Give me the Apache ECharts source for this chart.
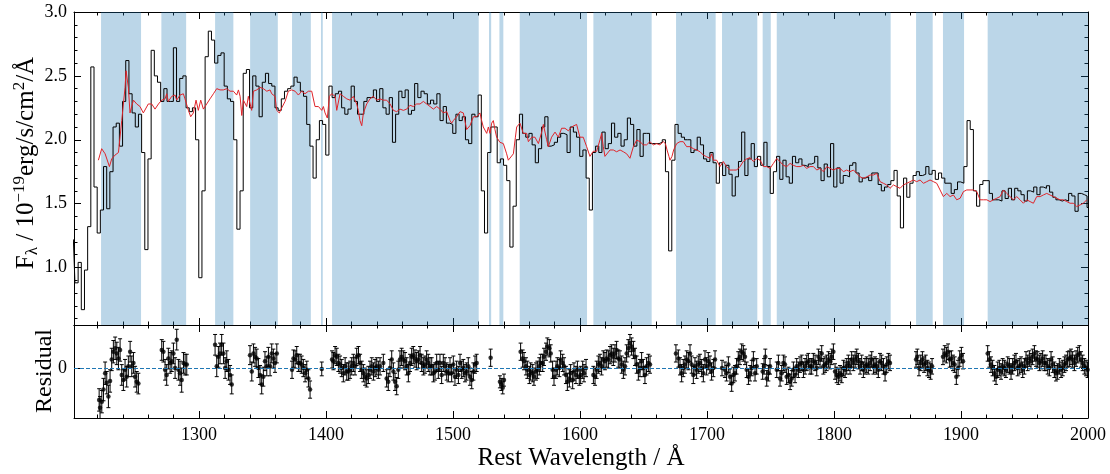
<!DOCTYPE html>
<html><head><meta charset="utf-8">
<script src="https://cdn.jsdelivr.net/npm/echarts@6/dist/echarts.min.js"></script>
<style>html,body{margin:0;padding:0;background:#fff}#c{width:1110px;height:474px}</style>
</head><body><div id="c"></div>
<script>
// ---------------- data ----------------
const xTickLabels = [1300,1400,1500,1600,1700,1800,1900,2000];
const fluxTickLabels = [1.0,1.5,2.0,2.5,3.0];
const residualTickLabels = [0];

// fitted wavelength windows (shaded)
const fitWindows = [
 [1222.8,1254.3],[1270.3,1289.8],[1312.6,1327.0],[1340.2,1362.0],[1373.2,1388.0],
 [1396.0,1397.4],[1404.7,1520.2],[1528.3,1530.0],[1536.5,1539.6],[1552.5,1605.5],
 [1610.5,1656.4],[1675.6,1706.8],[1711.8,1739.6],[1743.8,1750.2],[1754.9,1844.6],
 [1864.6,1877.7],[1885.8,1902.4],[1921.0,2000.0]
];

// observed spectrum [wavelength, flux]
const observedFlux = [
[1201.0,1.22],[1203.5,0.88],[1206.0,1.04],[1208.5,0.67],[1211.0,0.98],[1213.5,1.32],[1216.0,2.57],[1218.5,1.63],
[1221.0,1.27],[1223.5,1.45],[1226.0,1.79],[1228.5,1.46],[1231.0,1.75],[1233.5,2.10],[1236.0,2.13],[1238.5,1.95],
[1241.0,2.30],[1243.5,2.62],[1246.0,2.36],[1248.5,2.21],[1251.0,2.10],[1253.5,2.20],[1256.0,1.90],[1258.5,1.14],
[1261.0,1.85],[1263.5,2.70],[1266.0,2.50],[1268.5,2.45],[1271.0,2.30],[1273.5,2.40],[1276.0,2.30],[1278.5,2.30],
[1281.0,2.72],[1283.5,2.30],[1286.0,2.48],[1288.5,2.50],[1291.0,2.25],[1293.5,2.22],[1296.0,2.25],[1298.5,2.00],
[1301.0,0.92],[1303.5,1.60],[1306.0,2.65],[1308.5,2.85],[1311.0,2.78],[1313.5,2.60],[1316.0,2.66],[1318.5,2.68],
[1321.0,2.42],[1323.5,2.32],[1326.0,2.30],[1328.5,2.00],[1331.0,1.30],[1333.5,1.60],[1336.0,2.52],[1338.5,2.55],
[1341.0,2.25],[1343.5,2.50],[1346.0,2.42],[1348.5,2.18],[1351.0,2.45],[1353.5,2.52],[1356.0,2.44],[1358.5,2.42],
[1361.0,2.25],[1363.5,2.23],[1366.0,2.32],[1368.5,2.38],[1371.0,2.40],[1373.5,2.42],[1376.0,2.49],[1378.5,2.45],
[1381.0,2.38],[1383.5,2.34],[1386.0,2.12],[1388.5,1.95],[1391.0,1.70],[1393.5,2.00],[1396.0,2.15],[1398.5,2.12],
[1401.0,1.88],[1403.5,2.42],[1406.0,2.33],[1408.5,2.36],[1411.0,2.38],[1413.5,2.25],[1416.0,2.20],[1418.5,2.24],
[1421.0,2.42],[1423.5,2.30],[1426.0,2.20],[1428.5,2.20],[1431.0,2.30],[1433.5,2.33],[1436.0,2.33],[1438.5,2.39],
[1441.0,2.30],[1443.5,2.40],[1446.0,2.25],[1448.5,2.20],[1451.0,2.33],[1453.5,1.98],[1456.0,2.20],[1458.5,2.38],
[1461.0,2.33],[1463.5,2.39],[1466.0,2.20],[1468.5,2.23],[1471.0,2.44],[1473.5,2.33],[1476.0,2.38],[1478.5,2.36],
[1481.0,2.28],[1483.5,2.31],[1486.0,2.28],[1488.5,2.36],[1491.0,2.15],[1493.5,2.26],[1496.0,2.13],[1498.5,2.12],
[1501.0,2.05],[1503.5,2.20],[1506.0,2.15],[1508.5,2.18],[1511.0,2.00],[1513.5,1.97],[1516.0,2.20],[1518.5,2.18],
[1521.0,2.35],[1523.5,1.60],[1526.0,1.27],[1528.5,1.90],[1531.0,2.10],[1533.5,2.10],[1536.0,1.82],[1538.5,1.85],
[1541.0,1.80],[1543.5,1.68],[1546.0,1.16],[1548.5,1.48],[1551.0,2.00],[1553.5,2.20],[1556.0,2.05],[1558.5,2.02],
[1561.0,2.05],[1563.5,1.96],[1566.0,1.82],[1568.5,1.93],[1571.0,2.10],[1573.5,2.18],[1576.0,1.95],[1578.5,1.96],
[1581.0,1.98],[1583.5,2.02],[1586.0,2.05],[1588.5,2.04],[1591.0,1.90],[1593.5,2.10],[1596.0,2.06],[1598.5,2.02],
[1601.0,1.87],[1603.5,1.92],[1606.0,1.70],[1608.5,1.45],[1611.0,1.90],[1613.5,1.95],[1616.0,1.90],[1618.5,2.06],
[1621.0,1.93],[1623.5,1.97],[1626.0,2.13],[1628.5,2.02],[1631.0,2.05],[1633.5,1.95],[1636.0,2.00],[1638.5,2.17],
[1641.0,2.12],[1643.5,1.95],[1646.0,2.08],[1648.5,1.87],[1651.0,2.05],[1653.5,2.05],[1656.0,1.97],[1658.5,1.97],
[1661.0,1.97],[1663.5,1.98],[1666.0,2.00],[1668.5,1.75],[1671.0,1.13],[1673.5,1.84],[1676.0,2.12],[1678.5,2.05],
[1681.0,2.02],[1683.5,2.00],[1686.0,2.00],[1688.5,1.90],[1691.0,1.92],[1693.5,2.02],[1696.0,1.96],[1698.5,1.85],
[1701.0,1.83],[1703.5,1.90],[1706.0,1.82],[1708.5,1.66],[1711.0,1.82],[1713.5,1.72],[1716.0,1.80],[1718.5,1.73],
[1721.0,1.56],[1723.5,1.71],[1726.0,1.83],[1728.5,2.06],[1731.0,1.72],[1733.5,1.85],[1736.0,1.97],[1738.5,1.79],
[1741.0,1.87],[1743.5,1.80],[1746.0,1.98],[1748.5,1.79],[1751.0,1.58],[1753.5,1.75],[1756.0,1.87],[1758.5,1.69],
[1761.0,1.84],[1763.5,1.71],[1766.0,1.66],[1768.5,1.87],[1771.0,1.82],[1773.5,1.85],[1776.0,1.80],[1778.5,1.79],
[1781.0,1.81],[1783.5,1.82],[1786.0,1.87],[1788.5,1.78],[1791.0,1.68],[1793.5,1.81],[1796.0,1.71],[1798.5,1.97],
[1801.0,1.63],[1803.5,1.78],[1806.0,1.66],[1808.5,1.72],[1811.0,1.71],[1813.5,1.80],[1816.0,1.82],[1818.5,1.74],
[1821.0,1.67],[1823.5,1.70],[1826.0,1.71],[1828.5,1.68],[1831.0,1.74],[1833.5,1.74],[1836.0,1.65],[1838.5,1.60],
[1841.0,1.63],[1843.5,1.65],[1846.0,1.68],[1848.5,1.76],[1851.0,1.56],[1853.5,1.31],[1856.0,1.70],[1858.5,1.55],
[1861.0,1.66],[1863.5,1.72],[1866.0,1.75],[1868.5,1.72],[1871.0,1.73],[1873.5,1.79],[1876.0,1.73],[1878.5,1.76],
[1881.0,1.69],[1883.5,1.74],[1886.0,1.70],[1888.5,1.66],[1891.0,1.66],[1893.5,1.58],[1896.0,1.61],[1898.5,1.67],
[1901.0,1.66],[1903.5,1.79],[1906.0,2.15],[1908.5,2.08],[1911.0,1.60],[1913.5,1.48],[1916.0,1.65],[1918.5,1.68],
[1921.0,1.68],[1923.5,1.58],[1926.0,1.53],[1928.5,1.53],[1931.0,1.52],[1933.5,1.60],[1936.0,1.54],[1938.5,1.62],
[1941.0,1.53],[1943.5,1.62],[1946.0,1.60],[1948.5,1.57],[1951.0,1.52],[1953.5,1.60],[1956.0,1.59],[1958.5,1.63],
[1961.0,1.57],[1963.5,1.63],[1966.0,1.62],[1968.5,1.64],[1971.0,1.59],[1973.5,1.55],[1976.0,1.53],[1978.5,1.52],
[1981.0,1.53],[1983.5,1.52],[1986.0,1.58],[1988.5,1.56],[1991.0,1.44],[1993.5,1.58],[1996.0,1.57],[1998.5,1.56],
[2000.0,1.47]
];

// best-fit model [wavelength, flux]
const modelFlux = [
[1220.7,1.84],[1223.3,1.93],[1226.0,1.89],[1229.4,1.79],[1231.2,1.85],[1233.8,1.88],[1236.5,1.90],[1239.1,2.15],
[1241.7,2.41],[1242.5,2.54],[1244.3,2.41],[1245.6,2.21],[1248.3,2.31],[1250.9,2.28],[1253.5,2.26],[1256.1,2.21],
[1260.0,2.28],[1262.7,2.28],[1265.3,2.24],[1268.0,2.28],[1270.6,2.31],[1273.2,2.32],[1274.5,2.36],[1275.8,2.30],
[1278.5,2.34],[1281.1,2.35],[1282.4,2.31],[1285.0,2.35],[1287.6,2.36],[1288.9,2.32],[1291.6,2.23],[1293.4,2.18],
[1295.5,2.21],[1297.6,2.31],[1299.4,2.23],[1301.3,2.31],[1303.4,2.24],[1306.0,2.28],[1308.6,2.32],[1311.3,2.36],
[1313.9,2.40],[1316.5,2.39],[1319.1,2.39],[1321.8,2.40],[1324.4,2.38],[1327.0,2.38],[1329.6,2.35],[1331.0,2.39],
[1332.3,2.34],[1333.6,2.19],[1334.9,2.31],[1337.5,2.26],[1338.8,2.34],[1341.4,2.23],[1342.8,2.38],[1345.4,2.39],
[1348.0,2.41],[1350.6,2.40],[1353.3,2.38],[1355.9,2.39],[1357.2,2.36],[1359.8,2.34],[1361.1,2.23],[1363.2,2.21],
[1365.1,2.25],[1367.7,2.30],[1370.3,2.38],[1372.9,2.39],[1375.6,2.38],[1378.2,2.35],[1380.8,2.38],[1383.4,2.36],
[1386.1,2.38],[1388.7,2.38],[1391.3,2.26],[1394.0,2.26],[1396.6,2.23],[1397.9,2.26],[1399.2,2.21],[1401.0,2.17],
[1402.6,2.34],[1404.4,2.36],[1407.1,2.34],[1408.4,2.23],[1411.0,2.36],[1413.6,2.34],[1416.3,2.32],[1418.9,2.31],
[1421.5,2.34],[1424.1,2.28],[1425.4,2.23],[1426.7,2.15],[1428.1,2.11],[1429.4,2.21],[1432.0,2.28],[1434.6,2.32],
[1437.2,2.34],[1439.9,2.31],[1442.5,2.32],[1445.1,2.31],[1447.7,2.31],[1450.4,2.28],[1453.0,2.23],[1455.6,2.22],
[1458.2,2.24],[1460.9,2.23],[1463.5,2.24],[1466.1,2.27],[1468.7,2.26],[1471.3,2.28],[1474.0,2.28],[1476.6,2.30],
[1479.2,2.28],[1481.9,2.26],[1484.5,2.24],[1487.1,2.26],[1489.7,2.24],[1492.3,2.21],[1495.0,2.22],[1497.6,2.15],
[1498.9,2.13],[1500.2,2.15],[1502.8,2.18],[1505.5,2.22],[1506.8,2.23],[1508.1,2.21],[1510.7,2.08],[1513.3,2.11],
[1516.0,2.18],[1518.6,2.18],[1521.2,2.21],[1522.5,2.15],[1523.8,2.10],[1526.5,2.05],[1527.8,2.10],[1529.1,2.05],
[1530.4,2.13],[1531.7,2.15],[1533.0,2.08],[1534.3,2.02],[1536.9,1.98],[1539.6,1.97],[1542.2,1.89],[1543.5,1.84],
[1545.0,1.84],[1547.5,1.89],[1549.1,2.02],[1550.1,2.10],[1552.7,2.13],[1555.3,2.05],[1558.0,2.05],[1559.3,1.985],
[1562.0,2.02],[1564.5,2.02],[1567.2,1.97],[1569.8,2.06],[1571.1,2.12],[1573.7,2.00],[1575.0,1.945],[1577.6,2.02],
[1580.3,2.06],[1582.9,2.02],[1585.5,2.09],[1588.1,2.09],[1590.8,2.07],[1593.3,2.10],[1597.3,2.12],[1599.9,2.02],
[1602.5,2.02],[1605.2,1.946],[1607.8,1.87],[1610.4,1.91],[1613.1,1.91],[1615.7,2.00],[1617.0,2.05],[1618.3,1.946],
[1619.6,1.87],[1620.9,1.855],[1623.6,1.92],[1626.2,1.92],[1628.8,1.906],[1631.5,1.92],[1634.1,1.906],[1636.7,1.89],
[1639.3,1.855],[1642.0,1.946],[1644.6,1.998],[1647.2,1.985],[1649.8,1.96],[1652.4,1.96],[1655.0,1.985],[1657.7,1.96],
[1660.3,1.97],[1662.9,1.96],[1665.6,1.985],[1667.2,1.97],[1668.5,1.92],[1670.0,1.87],[1670.8,1.84],[1672.4,1.87],
[1673.7,1.92],[1676.1,1.97],[1678.7,1.985],[1681.3,1.985],[1683.9,1.946],[1686.6,1.946],[1689.2,1.93],[1691.8,1.92],
[1694.5,1.906],[1697.1,1.88],[1699.7,1.867],[1702.3,1.855],[1703.6,1.89],[1705.0,1.84],[1707.6,1.84],[1710.2,1.79],
[1712.8,1.83],[1715.4,1.79],[1718.0,1.763],[1720.7,1.763],[1723.3,1.763],[1726.0,1.79],[1728.5,1.83],[1731.2,1.85],
[1733.8,1.86],[1736.5,1.83],[1739.2,1.854],[1741.8,1.84],[1744.4,1.79],[1747.0,1.79],[1749.6,1.776],[1752.3,1.815],
[1754.9,1.854],[1757.5,1.828],[1760.1,1.80],[1762.8,1.79],[1765.4,1.815],[1767.9,1.80],[1770.6,1.79],[1773.3,1.79],
[1775.9,1.80],[1778.5,1.776],[1781.1,1.79],[1783.8,1.79],[1786.4,1.763],[1789.0,1.776],[1791.6,1.75],[1794.3,1.79],
[1796.9,1.776],[1799.5,1.763],[1802.1,1.776],[1804.8,1.776],[1807.4,1.75],[1810.0,1.763],[1812.6,1.75],[1815.3,1.763],
[1817.9,1.737],[1820.5,1.71],[1823.1,1.698],[1825.8,1.71],[1828.4,1.724],[1831.0,1.724],[1833.6,1.737],[1836.3,1.672],
[1838.9,1.659],[1841.5,1.646],[1844.1,1.62],[1846.8,1.646],[1849.4,1.633],[1852.0,1.62],[1854.6,1.646],[1857.3,1.659],
[1859.9,1.672],[1862.5,1.685],[1865.1,1.672],[1867.8,1.685],[1870.4,1.659],[1873.0,1.672],[1875.6,1.685],[1878.3,1.672],
[1880.9,1.659],[1883.5,1.607],[1886.1,1.555],[1888.8,1.58],[1891.4,1.555],[1894.0,1.568],[1896.6,1.53],[1899.3,1.542],
[1901.9,1.594],[1904.5,1.607],[1907.1,1.607],[1909.8,1.607],[1912.4,1.594],[1915.0,1.53],[1917.6,1.53],[1920.3,1.53],
[1922.9,1.516],[1925.5,1.53],[1928.1,1.542],[1930.8,1.555],[1933.4,1.607],[1936.0,1.58],[1938.6,1.555],[1941.3,1.53],
[1943.9,1.555],[1946.5,1.53],[1949.1,1.503],[1951.8,1.53],[1954.4,1.516],[1957.0,1.503],[1959.6,1.555],[1962.3,1.555],
[1964.9,1.568],[1967.5,1.58],[1970.1,1.568],[1972.8,1.555],[1975.4,1.542],[1978.0,1.53],[1980.6,1.53],[1983.3,1.516],
[1985.9,1.503],[1988.5,1.503],[1991.1,1.477],[1993.8,1.49],[1996.4,1.503],[1999.0,1.53]
];

// residuals [wavelength, residual, error]
const residuals = [
[1221.3,-0.37,0.13],[1222.0,-0.46,0.13],[1223.4,-0.39,0.13],[1224.7,-0.25,0.13],[1226.0,-0.06,0.13],[1227.3,-0.17,0.13],
[1228.6,-0.33,0.13],[1229.9,-0.15,0.13],[1231.2,0.10,0.13],[1232.5,0.19,0.13],[1233.9,0.23,0.13],[1235.2,0.17,0.13],
[1236.5,0.11,0.13],[1237.8,0.21,0.13],[1239.1,-0.08,0.12],[1240.4,-0.14,0.12],[1241.7,-0.02,0.12],[1243.0,-0.10,0.12],
[1244.3,0.02,0.12],[1245.7,0.19,0.12],[1247.0,0.02,0.12],[1248.3,0.06,0.12],[1249.6,-0.10,0.12],[1250.9,-0.16,0.12],
[1252.2,-0.18,0.12],
[1270.6,0.21,0.12],[1271.9,0.19,0.12],[1273.2,-0.02,0.12],[1274.5,-0.08,0.12],[1275.8,0.11,0.12],[1277.2,0.06,0.12],
[1278.5,0.08,0.12],[1279.8,0.17,0.12],[1281.1,0.00,0.12],[1282.4,0.33,0.12],[1283.7,-0.02,0.12],[1285.0,-0.06,0.14],
[1286.3,-0.14,0.14],[1287.7,0.06,0.12],[1289.0,0.04,0.12],[1290.3,0.04,0.12],
[1312.6,0.27,0.12],[1313.9,0.02,0.12],[1315.2,0.13,0.12],[1316.5,0.17,0.12],[1317.8,0.27,0.12],[1319.2,0.17,0.12],
[1320.5,0.00,0.12],[1321.8,0.08,0.12],[1323.1,-0.02,0.12],[1324.4,-0.08,0.11],[1325.7,-0.19,0.11],
[1340.1,0.15,0.11],[1341.5,-0.04,0.11],[1342.8,0.17,0.11],[1344.1,0.13,0.11],[1345.4,0.11,0.11],[1346.7,0.00,0.11],
[1348.0,-0.08,0.11],[1349.3,-0.19,0.11],[1350.6,-0.10,0.11],[1351.9,0.08,0.11],[1353.3,0.02,0.11],[1354.6,0.13,0.11],
[1355.9,0.02,0.11],[1357.2,0.17,0.11],[1358.5,0.11,0.11],[1359.8,0.06,0.11],[1361.2,0.17,0.11],
[1373.2,-0.02,0.10],[1374.3,0.11,0.10],[1375.6,0.10,0.10],[1376.9,0.15,0.10],[1378.2,0.06,0.10],[1379.5,0.06,0.10],
[1380.8,0.04,0.10],[1382.1,0.00,0.10],[1383.5,-0.06,0.10],[1384.8,-0.02,0.10],[1386.1,-0.12,0.10],[1387.4,-0.25,0.10],
[1396.6,-0.01,0.08],
[1404.7,0.10,0.10],[1405.8,0.08,0.10],[1407.1,0.15,0.10],[1408.4,0.13,0.10],[1409.7,0.06,0.10],[1411.0,0.04,0.10],
[1412.3,0.00,0.10],[1413.6,-0.06,0.10],[1415.0,0.02,0.10],[1416.3,-0.04,0.10],[1417.6,-0.04,0.10],[1418.9,-0.02,0.10],
[1420.2,0.02,0.10],[1421.5,0.06,0.10],[1422.8,0.02,0.10],[1424.1,0.13,0.10],[1425.5,0.15,0.10],[1426.8,0.06,0.10],
[1428.1,-0.02,0.10],[1429.4,-0.06,0.10],[1430.7,-0.10,0.10],[1432.0,-0.12,0.10],[1433.3,-0.08,0.10],[1434.6,-0.02,0.10],
[1436.0,0.02,0.10],[1437.3,-0.04,0.10],[1438.6,0.00,0.10],[1439.9,0.02,0.10],[1441.2,-0.02,0.10],[1442.5,0.02,0.10],
[1445.1,0.06,0.10],[1447.7,-0.12,0.10],[1449.0,-0.16,0.10],[1450.3,0.00,0.10],[1451.7,0.10,0.10],[1453.0,-0.04,0.10],
[1454.3,-0.16,0.10],[1455.6,-0.21,0.10],[1456.9,-0.02,0.10],[1458.2,0.10,0.10],[1459.5,0.13,0.10],[1460.8,0.10,0.10],
[1462.2,0.08,0.10],[1463.5,0.02,0.10],[1464.8,-0.06,0.10],[1466.1,0.06,0.10],[1467.4,0.13,0.10],[1468.7,0.15,0.10],
[1470.0,0.11,0.10],[1471.3,0.08,0.10],[1472.7,0.10,0.10],[1474.0,0.15,0.10],[1475.3,0.06,0.10],[1476.6,0.02,0.10],
[1477.9,0.04,0.10],[1479.2,0.10,0.10],[1480.5,0.06,0.10],[1481.8,0.02,0.10],[1483.2,0.02,0.10],[1484.5,-0.06,0.10],
[1485.8,-0.04,0.10],[1487.1,0.06,0.10],[1488.4,-0.02,0.10],[1489.7,0.06,0.10],[1491.0,-0.08,0.10],[1492.3,0.06,0.10],
[1493.7,0.02,0.10],[1495.0,-0.04,0.10],[1496.3,-0.06,0.10],[1497.6,0.02,0.10],[1498.9,-0.06,0.10],[1500.2,0.04,0.10],
[1501.5,-0.10,0.10],[1502.8,-0.02,0.10],[1504.2,-0.08,0.10],[1505.5,0.06,0.10],[1506.8,-0.02,0.10],[1508.1,0.00,0.10],
[1509.4,-0.06,0.10],[1510.7,-0.04,0.10],[1512.0,0.02,0.10],[1513.3,-0.10,0.10],[1514.7,-0.14,0.10],[1516.0,-0.04,0.10],
[1517.3,0.04,0.10],[1518.6,0.06,0.10],
[1529.6,0.12,0.10],
[1536.9,-0.16,0.07],[1538.0,-0.19,0.07],[1539.1,-0.23,0.07],[1540.1,-0.14,0.07],
[1553.2,0.19,0.10],[1554.8,0.11,0.10],[1555.9,0.08,0.10],[1557.4,0.02,0.10],[1558.5,-0.02,0.10],[1560.1,-0.08,0.10],
[1561.1,-0.04,0.10],[1562.7,-0.06,0.10],[1563.7,-0.10,0.10],[1565.3,-0.04,0.10],[1566.4,-0.02,0.10],[1567.9,0.02,0.10],
[1569.0,0.06,0.10],[1570.6,0.06,0.10],[1571.6,0.13,0.10],[1573.2,0.19,0.10],[1574.2,0.25,0.10],[1575.8,0.23,0.10],
[1576.9,0.17,0.10],[1578.4,-0.02,0.10],[1579.5,-0.10,0.10],[1581.1,-0.02,0.10],[1582.1,0.02,0.10],[1583.7,0.00,0.10],
[1584.7,0.10,0.10],[1586.3,0.06,0.10],[1587.4,0.02,0.10],[1588.9,-0.08,0.10],[1590.0,-0.16,0.10],[1591.6,-0.12,0.10],
[1592.6,-0.06,0.10],[1594.2,-0.14,0.10],[1595.2,-0.04,0.10],[1596.8,-0.08,0.10],[1597.9,-0.02,0.10],[1599.4,-0.10,0.10],
[1600.5,-0.08,0.10],[1602.1,-0.02,0.10],[1603.1,-0.06,0.10],[1604.7,0.00,0.10],
[1610.5,-0.08,0.10],[1611.8,-0.10,0.10],[1613.1,-0.02,0.10],[1614.4,0.04,0.10],[1615.7,0.06,0.10],[1617.0,0.02,0.10],
[1618.3,0.10,0.10],[1619.6,0.08,0.10],[1621.0,0.11,0.10],[1622.3,0.10,0.10],[1623.6,0.15,0.10],[1624.9,0.17,0.10],
[1626.2,0.13,0.10],[1627.5,0.17,0.10],[1628.8,0.21,0.10],[1630.1,0.11,0.10],[1631.4,0.10,0.10],[1632.8,0.04,0.10],
[1634.1,-0.02,0.10],[1635.4,0.02,0.10],[1636.7,0.17,0.10],[1638.0,0.23,0.10],[1639.3,0.29,0.10],[1640.6,0.25,0.10],
[1642.0,0.21,0.10],[1643.3,0.13,0.10],[1644.6,0.04,0.10],[1645.9,-0.04,0.10],[1647.2,0.00,0.10],[1648.5,0.08,0.10],
[1649.8,0.00,0.10],[1651.1,-0.08,0.10],[1652.4,0.02,0.10],[1653.8,0.06,0.10],[1655.1,0.04,0.10],
[1675.5,0.17,0.10],[1677.4,0.11,0.10],[1678.7,0.02,0.10],[1680.0,-0.06,0.10],[1681.3,0.00,0.10],[1682.6,0.04,0.10],
[1684.0,0.10,0.10],[1685.3,0.08,0.10],[1686.6,0.17,0.10],[1687.9,0.04,0.10],[1689.2,-0.08,0.10],[1690.5,0.02,0.10],
[1691.8,-0.02,0.10],[1693.1,0.04,0.10],[1694.4,0.06,0.10],[1695.8,0.00,0.10],[1697.1,-0.06,0.10],[1698.4,0.10,0.10],
[1699.7,0.02,0.10],[1701.0,0.08,0.10],[1702.3,0.04,0.10],[1703.6,-0.04,0.10],[1705.0,0.00,0.10],[1706.3,0.10,0.10],
[1711.8,0.00,0.09],[1714.1,-0.02,0.09],[1715.4,-0.06,0.09],[1716.8,0.04,0.09],[1718.1,-0.10,0.09],[1719.4,-0.18,0.09],
[1720.7,-0.08,0.09],[1722.0,-0.06,0.09],[1723.3,0.02,0.09],[1724.6,0.10,0.09],[1725.9,0.13,0.09],[1727.3,0.19,0.09],
[1728.6,0.17,0.09],[1729.9,0.13,0.09],[1731.2,-0.02,0.09],[1732.6,-0.10,0.09],[1733.9,-0.06,0.09],[1735.2,0.00,0.09],
[1736.5,0.10,0.09],[1737.8,-0.06,0.09],[1739.1,0.02,0.09],
[1743.8,-0.04,0.09],[1744.9,0.02,0.09],[1745.9,0.13,0.09],[1747.0,-0.12,0.09],[1748.3,-0.06,0.09],[1749.6,0.02,0.09],
[1754.9,-0.02,0.09],[1756.2,0.06,0.09],[1757.5,-0.12,0.09],[1758.8,-0.06,0.09],[1760.1,0.06,0.09],[1761.4,0.04,0.09],
[1762.7,-0.10,0.09],[1764.1,-0.08,0.09],[1765.4,-0.16,0.09],[1766.7,-0.12,0.09],[1768.0,-0.02,0.09],[1769.3,-0.08,0.09],
[1770.6,0.02,0.09],[1771.9,-0.02,0.09],[1773.2,0.04,0.09],[1774.6,0.06,0.09],[1775.9,-0.02,0.09],[1777.2,0.02,0.09],
[1778.5,0.06,0.09],[1779.8,0.08,0.09],[1781.1,0.02,0.09],[1782.4,0.02,0.09],[1783.7,0.08,0.09],[1785.1,0.06,0.09],
[1786.4,0.00,0.09],[1787.7,0.13,0.09],[1789.0,0.10,0.09],[1790.3,0.17,0.09],[1791.6,0.02,0.09],[1792.9,0.04,0.09],
[1794.2,0.06,0.09],[1795.6,0.10,0.09],[1796.9,0.08,0.09],[1798.2,0.13,0.09],[1799.5,0.19,0.09],[1800.8,-0.04,0.09],
[1802.1,-0.08,0.09],[1803.4,-0.10,0.09],[1804.7,-0.06,0.09],[1806.1,-0.08,0.09],[1807.4,0.00,0.09],[1808.7,-0.02,0.09],
[1810.0,0.02,0.09],[1811.3,0.06,0.09],[1812.6,0.02,0.09],[1813.9,0.10,0.09],[1815.2,0.06,0.09],[1816.6,0.10,0.09],
[1817.9,0.13,0.09],[1819.2,0.08,0.09],[1820.5,0.02,0.09],[1821.8,0.06,0.09],[1823.1,-0.02,0.09],[1824.4,0.02,0.09],
[1825.7,0.04,0.09],[1827.0,0.02,0.09],[1828.4,0.06,0.09],[1829.7,0.10,0.09],[1831.0,0.02,0.09],[1832.3,0.04,0.09],
[1833.6,0.02,0.09],[1834.9,-0.02,0.09],[1836.2,0.08,0.09],[1837.5,0.06,0.09],[1838.9,0.02,0.09],[1840.2,-0.06,0.09],
[1841.5,0.04,0.09],[1842.8,0.08,0.09],[1844.1,0.06,0.09],
[1864.6,0.10,0.09],[1865.6,0.13,0.09],[1866.9,0.00,0.09],[1868.3,0.06,0.09],[1869.6,0.10,0.09],[1870.9,0.04,0.09],
[1872.2,0.06,0.09],[1873.5,0.00,0.09],[1874.8,-0.02,0.09],[1876.1,-0.04,0.09],[1877.2,0.02,0.09],
[1885.8,0.13,0.09],[1887.2,0.17,0.09],[1888.5,0.15,0.09],[1889.8,0.19,0.09],[1891.1,0.10,0.09],[1892.4,0.11,0.09],
[1893.7,0.06,0.09],[1895.0,0.04,0.09],[1896.3,-0.10,0.09],[1897.7,0.00,0.09],[1899.0,0.11,0.09],[1900.3,0.15,0.09],
[1901.6,0.08,0.09],
[1921.0,0.17,0.09],[1922.3,0.10,0.09],[1923.6,0.04,0.09],[1924.9,0.00,0.09],[1926.3,-0.06,0.09],[1927.6,-0.10,0.09],
[1928.9,-0.02,0.09],[1930.2,0.00,0.09],[1931.5,-0.04,0.09],[1932.8,0.02,0.09],[1934.1,0.00,0.09],[1935.4,-0.02,0.09],
[1936.8,0.04,0.09],[1938.1,0.02,0.09],[1939.4,-0.04,0.09],[1940.7,0.02,0.09],[1942.0,0.06,0.09],[1943.3,0.08,0.09],
[1944.6,0.00,0.09],[1945.9,0.02,0.09],[1947.3,0.04,0.09],[1948.6,-0.02,0.09],[1949.9,0.02,0.09],[1951.2,0.10,0.09],
[1952.5,0.06,0.09],[1953.8,0.11,0.09],[1955.1,0.08,0.09],[1956.4,0.13,0.09],[1957.8,0.17,0.09],[1959.1,0.11,0.09],
[1960.4,0.10,0.09],[1961.7,0.06,0.09],[1963.0,0.08,0.09],[1964.3,0.11,0.09],[1965.6,0.06,0.09],[1966.9,0.06,0.09],
[1968.3,0.02,0.09],[1969.6,0.00,0.09],[1970.9,0.10,0.09],[1972.2,0.04,0.09],[1973.5,-0.02,0.09],[1974.8,-0.06,0.09],
[1976.1,-0.04,0.09],[1977.4,0.02,0.09],[1978.8,-0.02,0.09],[1980.1,0.00,0.09],[1981.4,0.04,0.09],[1982.7,0.06,0.09],
[1984.0,0.10,0.09],[1985.3,0.11,0.09],[1986.6,0.13,0.09],[1987.9,0.10,0.09],[1989.3,0.06,0.09],[1990.6,0.11,0.09],
[1991.9,0.15,0.09],[1993.2,0.17,0.09],[1994.5,0.10,0.09],[1995.8,0.06,0.09],[1997.1,0.02,0.09],[1998.4,0.00,0.09],
[1999.7,-0.02,0.09]
];

// ---------------- chart ----------------
const FONT = '"Liberation Serif", "DejaVu Serif", serif';
const XMIN = 1201.5, XMAX = 2000;
const FMIN = 0.55, FMAX = 3.0;
const RMIN = -0.58, RMAX = 0.5;

const xMinorTicks = [];
for (let v = 1220; v < 2000; v += 20) if (v % 100 !== 0) xMinorTicks.push(v);
const fluxMinorTicks = [];
for (let k = 6; k < 30; k++) if (k % 5 !== 0) fluxMinorTicks.push(k / 10);

function xAx(grid, pos, ticks, len, labels, line) {
  return {
    type: 'value', gridIndex: grid, position: pos, min: XMIN, max: XMAX,
    axisLine: { show: line, onZero: false, lineStyle: { color: '#000', width: 1 } },
    axisTick: { show: true, inside: true, length: len, customValues: ticks, lineStyle: { color: '#000', width: 1 } },
    axisLabel: labels ? { show: true, customValues: labels, color: '#000', fontFamily: FONT, fontSize: 18, margin: 8,
      formatter: v => String(Math.round(v)) } : { show: false },
    splitLine: { show: false }, minorTick: { show: false }
  };
}
function yAx(grid, pos, min, max, ticks, len, labels, line) {
  return {
    type: 'value', gridIndex: grid, position: pos, min: min, max: max,
    axisLine: { show: line, onZero: false, lineStyle: { color: '#000', width: 1 } },
    axisTick: { show: true, inside: true, length: len, customValues: ticks, lineStyle: { color: '#000', width: 1 } },
    axisLabel: labels ? { show: true, customValues: labels, color: '#000', fontFamily: FONT, fontSize: 18, margin: 7,
      formatter: v => (grid === 0 ? v.toFixed(1) : String(Math.round(v))) } : { show: false },
    splitLine: { show: false }, minorTick: { show: false }
  };
}

const chart = echarts.init(document.getElementById('c'), null, { renderer: 'canvas' });
chart.setOption({
  animation: false,
  backgroundColor: '#fff',
  grid: [
    { left: 74, right: 22, top: 12, height: 313 },
    { left: 74, right: 22, top: 325, height: 93 }
  ],
  xAxis: [
    xAx(0, 'bottom', xTickLabels, 7, null, true),
    xAx(0, 'bottom', xMinorTicks, 3.5, null, false),
    xAx(0, 'top', xTickLabels, 7, null, true),
    xAx(0, 'top', xMinorTicks, 3.5, null, false),
    xAx(1, 'bottom', xTickLabels, 7, xTickLabels, true),
    xAx(1, 'bottom', xMinorTicks, 3.5, null, false),
    xAx(1, 'top', xTickLabels, 7, null, true),
    xAx(1, 'top', xMinorTicks, 3.5, null, false)
  ],
  yAxis: [
    yAx(0, 'left', FMIN, FMAX, fluxTickLabels, 7, fluxTickLabels, true),
    yAx(0, 'left', FMIN, FMAX, fluxMinorTicks, 3.5, null, false),
    yAx(0, 'right', FMIN, FMAX, fluxTickLabels, 7, null, true),
    yAx(0, 'right', FMIN, FMAX, fluxMinorTicks, 3.5, null, false),
    yAx(1, 'left', RMIN, RMAX, residualTickLabels, 7, residualTickLabels, true),
    yAx(1, 'right', RMIN, RMAX, residualTickLabels, 7, null, true)
  ],
  graphic: [
    { type: 'text', x: 26, y: 163, rotation: Math.PI / 2, silent: true,
      style: { text: '{m|F}{sb|λ}{m| / 10}{sp|−19}{m|erg/s/cm}{sp|2}{m|/Å}', align: 'center', verticalAlign: 'middle',
        rich: {
          m: { fontFamily: FONT, fontSize: 25, lineHeight: 30, fill: '#000' },
          sp: { fontFamily: FONT, fontSize: 17, lineHeight: 12, verticalAlign: 'top', fill: '#000' },
          sb: { fontFamily: FONT, fontSize: 17, lineHeight: 10, verticalAlign: 'bottom', fill: '#000' }
        } } },
    { type: 'text', x: 45, y: 371, rotation: Math.PI / 2, silent: true,
      style: { text: 'Residual', fontFamily: FONT, fontSize: 24, fill: '#000', align: 'center', verticalAlign: 'middle' } },
    { type: 'text', x: 581, y: 458, silent: true,
      style: { text: 'Rest Wavelength / Å', fontFamily: FONT, fontSize: 25, fill: '#000', align: 'center', verticalAlign: 'middle' } }
  ],
  series: [
    { type: 'line', xAxisIndex: 0, yAxisIndex: 0, data: [], silent: true, z: 1,
      markArea: { silent: true, itemStyle: { color: 'rgba(31,119,180,0.3)' },
        data: fitWindows.map(w => [{ xAxis: w[0] }, { xAxis: w[1] }]) } },
    { type: 'line', xAxisIndex: 0, yAxisIndex: 0, step: 'middle', data: observedFlux, symbol: 'none', silent: true, z: 3,
      lineStyle: { color: '#000', width: 1 } },
    { type: 'line', xAxisIndex: 0, yAxisIndex: 0, data: modelFlux, symbol: 'none', silent: true, z: 4,
      lineStyle: { color: '#e0242a', width: 1 } },
    { type: 'custom', xAxisIndex: 4, yAxisIndex: 4, data: residuals, silent: true, z: 3, clip: true,
      encode: { x: 0, y: 1 },
      renderItem: function (params, api) {
        const x = api.value(0), y = api.value(1), e = api.value(2);
        const t = api.coord([x, y + e]), b = api.coord([x, y - e]);
        const c = 2, st = { stroke: '#000', lineWidth: 1 };
        return { type: 'group', children: [
          { type: 'line', shape: { x1: t[0], y1: t[1], x2: b[0], y2: b[1] }, style: st },
          { type: 'line', shape: { x1: t[0] - c, y1: t[1], x2: t[0] + c, y2: t[1] }, style: st },
          { type: 'line', shape: { x1: b[0] - c, y1: b[1], x2: b[0] + c, y2: b[1] }, style: st }
        ] };
      } },
    { type: 'scatter', xAxisIndex: 4, yAxisIndex: 4, data: residuals.map(r => [r[0], r[1]]), symbol: 'circle', symbolSize: 4.5,
      silent: true, z: 4, itemStyle: { color: '#000' },
      markLine: { silent: true, symbol: 'none', label: { show: false },
        lineStyle: { color: '#1f77b4', type: [4, 2], width: 1 }, data: [{ yAxis: 0 }] } }
  ]
});
</script>
</body></html>
